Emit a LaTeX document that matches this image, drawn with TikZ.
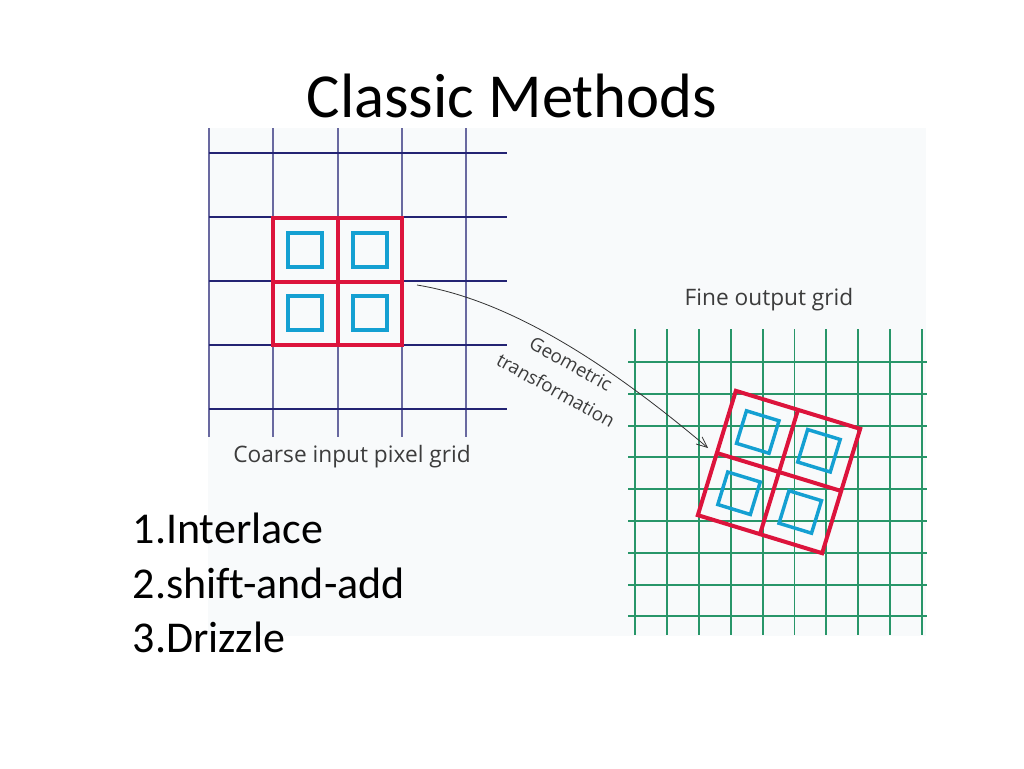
\documentclass[tikz,border=0pt]{standalone}
\usepackage{fontspec}
\setmainfont{Carlito}[Ligatures=NoCommon]
\newfontfamily\handfont{Open Sans}
\usetikzlibrary{arrows.meta}

\definecolor{coarseh}{RGB}{35,35,115}
\definecolor{coarsev}{RGB}{105,105,160}
\definecolor{finegreen}{RGB}{40,150,105}
\definecolor{pixred}{RGB}{220,20,60}
\definecolor{pixblue}{RGB}{20,160,210}
\definecolor{panel}{RGB}{248,250,251}
\definecolor{handgray}{RGB}{60,60,60}

\tikzset{
  redpix/.style={draw=pixred, line width=3pt},
  bluepix/.style={draw=pixblue, line width=2.6pt},
  handlabel/.style={font=\handfont, text=handgray, inner sep=0pt}
}

\begin{document}
\begin{tikzpicture}[x=0.75pt, y=-0.75pt]
\useasboundingbox (0,0) rectangle (1024,768);
\fill[white] (0,0) rectangle (1024,768);
\fill[panel] (208,128) rectangle (926,636);

% title and list
\node[anchor=base, font=\fontsize{47}{56}\selectfont] (title) at (512,117) {Classic Methods};
\node[anchor=base west, font=\fontsize{33}{40}\selectfont] (m1) at (128,543) {1.Interlace};
\node[anchor=base west, font=\fontsize{33}{40}\selectfont] (m2) at (128,598) {2.shift-and-add};
\node[anchor=base west, font=\fontsize{33}{40}\selectfont] (m3) at (128,652) {3.Drizzle};

% coarse input grid
\foreach \i in {0,...,4}
  \draw[coarsev, line width=1.5pt] (209+64.3*\i,128) -- (209+64.3*\i,437);
\foreach \j in {0,...,4}
  \draw[coarseh, line width=1.1pt] (209,153+64*\j) -- (507,153+64*\j);
\draw[redpix] (273,218) rectangle (402,345) (337.5,218) -- (337.5,345) (273,281.5) -- (402,281.5);
\foreach \cx/\cy in {305/250, 370/250, 305/313, 370/313}
  \draw[bluepix] (\cx-17,\cy-17) rectangle (\cx+17,\cy+17);
\node[handlabel, font=\handfont\fontsize{17}{20}\selectfont] (coarse) at (352,457) {Coarse input pixel grid};

% fine output grid
\foreach \i in {0,...,9}
  \draw[finegreen, line width=1.4pt] (635+31.9*\i,329) -- (635+31.9*\i,635);
\foreach \j in {0,...,8}
  \draw[finegreen, line width=1.4pt] (628,362+31.8*\j) -- (927,362+31.8*\j);
\begin{scope}[shift={(779,472)}, rotate=-17]
  \draw[redpix] (-65,-65) rectangle (65,65) (0,-65) -- (0,65) (-65,0) -- (65,0);
  \foreach \cx/\cy in {-32/-32, 32/-32, -32/32, 32/32}
    \draw[bluepix] (\cx-17,\cy-17) rectangle (\cx+17,\cy+17);
\end{scope}
\node[handlabel, font=\handfont\fontsize{17}{20}\selectfont] (fine) at (769,300) {Fine output grid};

% transformation arrow
\coordinate (from) at (417,285);
\coordinate (to) at (708,448);
\draw[-{Straight Barb[length=8pt, width=7pt]}, black!80, line width=0.6pt]
  (from) .. controls (510,300) and (610,365) .. (to);
\node[handlabel, font=\handfont\fontsize{14}{16}\selectfont, rotate=-29] (geo) at (571,364) {Geometric};
\node[handlabel, font=\handfont\fontsize{14}{16}\selectfont, rotate=-29] (trans) at (556,390) {transformation};
\end{tikzpicture}
\end{document}
